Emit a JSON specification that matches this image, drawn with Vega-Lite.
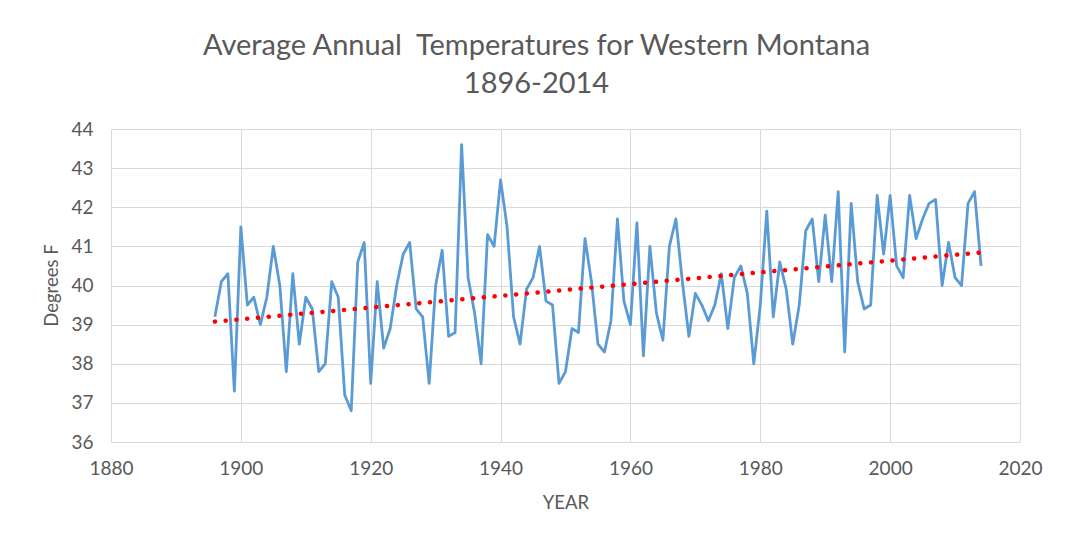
{
  "$schema": "https://vega.github.io/schema/vega-lite/v6.json",
  "autosize": "none",
  "width": 909,
  "height": 313,
  "padding": {"left": 111, "top": 129, "right": 52, "bottom": 108},
  "background": "white",
  "config": {
    "font": "Lato",
    "view": {"stroke": null},
    "axis": {
      "labelFont": "Lato",
      "labelColor": "#595959",
      "labelFontSize": 19,
      "titleFont": "Lato",
      "titleColor": "#595959",
      "titleFontSize": 18.5,
      "titleFontWeight": "normal",
      "gridColor": "#d9d9d9",
      "gridWidth": 1,
      "domain": false,
      "ticks": false,
      "tickSize": 0
    }
  },
  "title": {
    "text": ["Average Annual\u00a0 Temperatures for Western Montana", "1896-2014"],
    "font": "Lato",
    "fontSize": 29,
    "fontWeight": "normal",
    "color": "#595959",
    "anchor": "middle",
    "dx": -29,
    "offset": 21,
    "lineHeight": 38
  },
  "data": {
    "values": [
      {"year": 1896, "temp": 39.2}, {"year": 1897, "temp": 40.1}, {"year": 1898, "temp": 40.3}, {"year": 1899, "temp": 37.3},
      {"year": 1900, "temp": 41.5}, {"year": 1901, "temp": 39.5}, {"year": 1902, "temp": 39.7}, {"year": 1903, "temp": 39.0},
      {"year": 1904, "temp": 39.7}, {"year": 1905, "temp": 41.0}, {"year": 1906, "temp": 40.0}, {"year": 1907, "temp": 37.8},
      {"year": 1908, "temp": 40.3}, {"year": 1909, "temp": 38.5}, {"year": 1910, "temp": 39.7}, {"year": 1911, "temp": 39.4},
      {"year": 1912, "temp": 37.8}, {"year": 1913, "temp": 38.0}, {"year": 1914, "temp": 40.1}, {"year": 1915, "temp": 39.7},
      {"year": 1916, "temp": 37.2}, {"year": 1917, "temp": 36.8}, {"year": 1918, "temp": 40.6}, {"year": 1919, "temp": 41.1},
      {"year": 1920, "temp": 37.5}, {"year": 1921, "temp": 40.1}, {"year": 1922, "temp": 38.4}, {"year": 1923, "temp": 38.9},
      {"year": 1924, "temp": 40.0}, {"year": 1925, "temp": 40.8}, {"year": 1926, "temp": 41.1}, {"year": 1927, "temp": 39.4},
      {"year": 1928, "temp": 39.2}, {"year": 1929, "temp": 37.5}, {"year": 1930, "temp": 40.0}, {"year": 1931, "temp": 40.9},
      {"year": 1932, "temp": 38.7}, {"year": 1933, "temp": 38.8}, {"year": 1934, "temp": 43.6}, {"year": 1935, "temp": 40.2},
      {"year": 1936, "temp": 39.3}, {"year": 1937, "temp": 38.0}, {"year": 1938, "temp": 41.3}, {"year": 1939, "temp": 41.0},
      {"year": 1940, "temp": 42.7}, {"year": 1941, "temp": 41.5}, {"year": 1942, "temp": 39.2}, {"year": 1943, "temp": 38.5},
      {"year": 1944, "temp": 39.9}, {"year": 1945, "temp": 40.2}, {"year": 1946, "temp": 41.0}, {"year": 1947, "temp": 39.6},
      {"year": 1948, "temp": 39.5}, {"year": 1949, "temp": 37.5}, {"year": 1950, "temp": 37.8}, {"year": 1951, "temp": 38.9},
      {"year": 1952, "temp": 38.8}, {"year": 1953, "temp": 41.2}, {"year": 1954, "temp": 40.1}, {"year": 1955, "temp": 38.5},
      {"year": 1956, "temp": 38.3}, {"year": 1957, "temp": 39.1}, {"year": 1958, "temp": 41.7}, {"year": 1959, "temp": 39.6},
      {"year": 1960, "temp": 39.0}, {"year": 1961, "temp": 41.6}, {"year": 1962, "temp": 38.2}, {"year": 1963, "temp": 41.0},
      {"year": 1964, "temp": 39.3}, {"year": 1965, "temp": 38.6}, {"year": 1966, "temp": 41.0}, {"year": 1967, "temp": 41.7},
      {"year": 1968, "temp": 40.1}, {"year": 1969, "temp": 38.7}, {"year": 1970, "temp": 39.8}, {"year": 1971, "temp": 39.5},
      {"year": 1972, "temp": 39.1}, {"year": 1973, "temp": 39.5}, {"year": 1974, "temp": 40.3}, {"year": 1975, "temp": 38.9},
      {"year": 1976, "temp": 40.2}, {"year": 1977, "temp": 40.5}, {"year": 1978, "temp": 39.8}, {"year": 1979, "temp": 38.0},
      {"year": 1980, "temp": 39.5}, {"year": 1981, "temp": 41.9}, {"year": 1982, "temp": 39.2}, {"year": 1983, "temp": 40.6},
      {"year": 1984, "temp": 39.9}, {"year": 1985, "temp": 38.5}, {"year": 1986, "temp": 39.5}, {"year": 1987, "temp": 41.4},
      {"year": 1988, "temp": 41.7}, {"year": 1989, "temp": 40.1}, {"year": 1990, "temp": 41.8}, {"year": 1991, "temp": 40.1},
      {"year": 1992, "temp": 42.4}, {"year": 1993, "temp": 38.3}, {"year": 1994, "temp": 42.1}, {"year": 1995, "temp": 40.1},
      {"year": 1996, "temp": 39.4}, {"year": 1997, "temp": 39.5}, {"year": 1998, "temp": 42.3}, {"year": 1999, "temp": 40.8},
      {"year": 2000, "temp": 42.3}, {"year": 2001, "temp": 40.5}, {"year": 2002, "temp": 40.2}, {"year": 2003, "temp": 42.3},
      {"year": 2004, "temp": 41.2}, {"year": 2005, "temp": 41.7}, {"year": 2006, "temp": 42.1}, {"year": 2007, "temp": 42.2},
      {"year": 2008, "temp": 40.0}, {"year": 2009, "temp": 41.1}, {"year": 2010, "temp": 40.2}, {"year": 2011, "temp": 40.0},
      {"year": 2012, "temp": 42.1}, {"year": 2013, "temp": 42.4}, {"year": 2014, "temp": 40.5}
    ]
  },
  "encoding": {
    "x": {
      "field": "year",
      "type": "quantitative",
      "scale": {"domain": [1880, 2020], "nice": false, "zero": false},
      "axis": {
        "values": [1880, 1900, 1920, 1940, 1960, 1980, 2000, 2020],
        "format": "d",
        "title": "YEAR",
        "labelPadding": 17,
        "labelFlush": false,
        "labelOverlap": false,
        "titleY": 60,
        "titleBaseline": "middle"
      }
    },
    "y": {
      "field": "temp",
      "type": "quantitative",
      "scale": {"domain": [36, 44], "nice": false, "zero": false},
      "axis": {
        "values": [36, 37, 38, 39, 40, 41, 42, 43, 44],
        "title": "Degrees F",
        "labelPadding": 18,
        "titleX": -60,
        "titleY": 156,
        "titleAngle": 270,
        "titleBaseline": "middle",
        "titleAlign": "center"
      }
    }
  },
  "layer": [
    {
      "mark": {"type": "line", "color": "#5b9bd5", "strokeWidth": 2.8, "strokeJoin": "round"}
    },
    {
      "transform": [
        {"regression": "temp", "on": "year", "method": "linear", "extent": [1896, 2014]}
      ],
      "mark": {"type": "line", "color": "#ff0000", "strokeWidth": 4.5, "strokeCap": "round", "strokeDash": [0.1, 10.7]}
    }
  ]
}
